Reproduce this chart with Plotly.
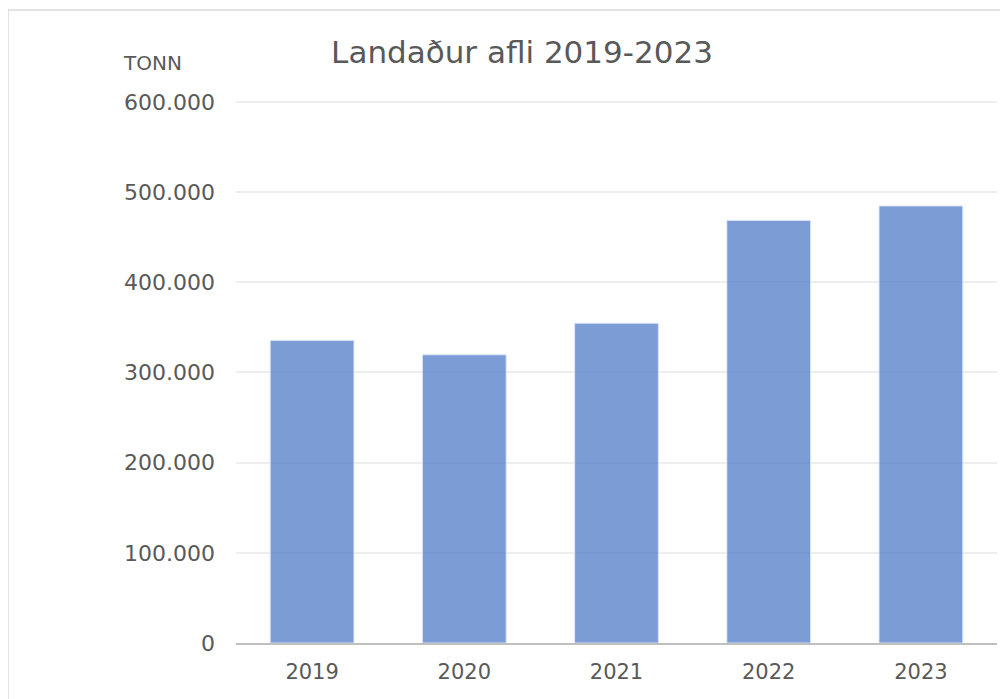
import plotly.graph_objects as go

# Landaður afli (tonn) per year
years = ["2019", "2020", "2021", "2022", "2023"]
catch_tonnes = [335500, 319500, 354500, 468500, 484500]
y_ticks = [0, 100000, 200000, 300000, 400000, 500000, 600000]

TEXT = "#595959"
FONT = "DejaVu Sans ExtraLight, DejaVu Sans"

# the page has an 8px body margin, so the figure is drawn 8px in from the corner
W, H = 1000, 691
PLOT_L, PLOT_R, PLOT_T, PLOT_B = 228, 989, 92, 635
Y_MAX = 602000  # a little headroom so the 600.000 gridline is drawn

fig = go.Figure(go.Bar(
    x=years,
    y=catch_tonnes,
    marker=dict(color="rgba(68,114,196,0.7)",
                line=dict(color="rgba(220,230,248,0.9)", width=1)),
    hovertemplate="%{x}: %{y:,} tonn<extra></extra>",
))

fig.update_layout(
    width=W,
    height=H,
    margin=dict(l=PLOT_L, r=W - PLOT_R, t=PLOT_T, b=H - PLOT_B),
    paper_bgcolor="white",
    plot_bgcolor="white",
    separators=",.",
    bargap=0.45,
    showlegend=False,
    font=dict(family=FONT, color=TEXT, size=21),
    title=dict(
        text="Landaður afli 2019-2023",
        x=514 / W, xanchor="center",
        y=1 - 44 / H, yanchor="middle",
        font=dict(family=FONT, size=31, color=TEXT),
    ),
    xaxis=dict(
        showline=True, linecolor="#bfbfbf", linewidth=2,
        showgrid=False, ticks="", ticklabelstandoff=9,
        tickfont=dict(size=21, color=TEXT),
    ),
    yaxis=dict(
        range=[0, Y_MAX], tickvals=y_ticks, tickformat=",",
        showgrid=True, gridcolor="#eeeeee", gridwidth=1.5,
        zeroline=False, showline=False, ticks="",
        ticklabelstandoff=20,
        tickfont=dict(size=22, color=TEXT),
    ),
)

plot_w = PLOT_R - PLOT_L
plot_h = PLOT_B - PLOT_T

fig.add_annotation(
    text="TONN", xref="paper", yref="paper",
    x=(144 - PLOT_L) / plot_w, y=(PLOT_B - 55) / plot_h,
    xanchor="center", yanchor="middle", showarrow=False,
    font=dict(family=FONT, size=20, color=TEXT),
)

# outer chart border
fig.add_shape(
    type="rect", xref="paper", yref="paper",
    x0=(0 - PLOT_L) / plot_w, x1=1.2, y0=-0.3, y1=(PLOT_B - 2) / plot_h,
    line=dict(color="#d9d9d9", width=1.5), layer="below",
)

fig.write_html("out.html")
